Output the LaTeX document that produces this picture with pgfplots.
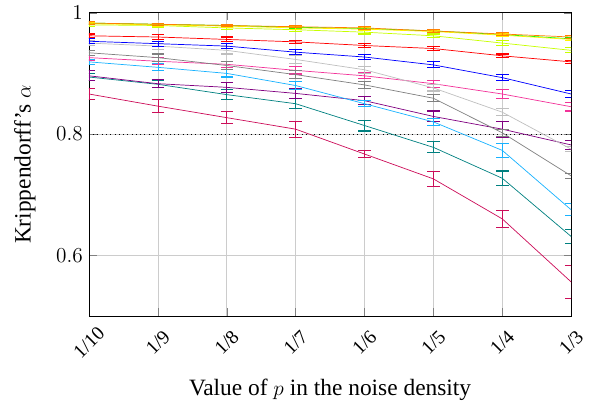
\documentclass[border=0pt]{standalone}
\usepackage{fontspec}
\setmainfont{Liberation Serif}
\usepackage{pgfplots}
\pgfplotsset{compat=1.18}

\definecolor{crimson}{rgb}{0.80,0.05,0.35}
\definecolor{hotpink}{rgb}{0.95,0.20,0.60}
\definecolor{skyblue}{rgb}{0.10,0.70,1.00}
\definecolor{limey}{rgb}{0.78,1.00,0.00}

\pgfplotsset{
  kline/.style={thin, mark=none, error bars/.cd, y dir=both, y explicit,
    error mark options={rotate=90, mark size=3.5pt, line width=0.6pt}, /pgfplots/.cd},
}

\begin{document}
\begin{tikzpicture}
\begin{axis}[
    scale only axis,
    width=272pt,
    height=171pt,
    xmin=0, xmax=7,
    ymin=0.5, ymax=1,
    xtick={0,1,2,3,4,5,6,7},
    xticklabels={1/10,1/9,1/8,1/7,1/6,1/5,1/4,1/3},
    x tick label style={rotate=45, anchor=center, font=\fontsize{11}{13}\selectfont},
    xticklabel shift=15pt,
    ytick={0.6,0.8,1},
    y tick label style={font=\large},
    grid=major,
    major grid style={gray!40},
    tick style={gray},
    xlabel={Value of $p$ in the noise density},
    ylabel={Krippendorff's $\alpha$},
    xlabel style={font=\fontsize{13.2}{15}\selectfont, yshift=-3pt},
    ylabel style={font=\fontsize{13.2}{15}\selectfont, inner ysep=8pt},
]
\addplot[black, dotted, thin, forget plot] coordinates {(0,0.8) (7,0.8)};

\addplot[kline, color=crimson] coordinates {
(0,0.866) +- (0,0.009) (1,0.846) +- (0,0.011) (2,0.827) +- (0,0.010) (3,0.808) +- (0,0.013)
(4,0.767) +- (0,0.006) (5,0.726) +- (0,0.012) (6,0.660) +- (0,0.014) (7,0.556) +- (0,0.027)};
\addplot[kline, color=teal] coordinates {
(0,0.894) +- (0,0.006) (1,0.882) +- (0,0.006) (2,0.865) +- (0,0.008) (3,0.850) +- (0,0.008)
(4,0.814) +- (0,0.009) (5,0.778) +- (0,0.009) (6,0.727) +- (0,0.012) (7,0.631) +- (0,0.011)};
\addplot[kline, color=violet] coordinates {
(0,0.896) +- (0,0.008) (1,0.883) +- (0,0.007) (2,0.877) +- (0,0.008) (3,0.867) +- (0,0.008)
(4,0.855) +- (0,0.007) (5,0.829) +- (0,0.009) (6,0.808) +- (0,0.013) (7,0.782) +- (0,0.008)};
\addplot[kline, color=skyblue] coordinates {
(0,0.919) +- (0,0.004) (1,0.910) +- (0,0.006) (2,0.900) +- (0,0.006) (3,0.880) +- (0,0.006)
(4,0.850) +- (0,0.005) (5,0.820) +- (0,0.006) (6,0.773) +- (0,0.012) (7,0.675) +- (0,0.010)};
\addplot[kline, color=hotpink] coordinates {
(0,0.926) +- (0,0.004) (1,0.920) +- (0,0.006) (2,0.915) +- (0,0.005) (3,0.905) +- (0,0.006)
(4,0.896) +- (0,0.005) (5,0.883) +- (0,0.006) (6,0.866) +- (0,0.008) (7,0.845) +- (0,0.007)};
\addplot[kline, color=gray] coordinates {
(0,0.934) +- (0,0.004) (1,0.926) +- (0,0.006) (2,0.913) +- (0,0.006) (3,0.898) +- (0,0.006)
(4,0.881) +- (0,0.006) (5,0.859) +- (0,0.006) (6,0.802) +- (0,0.006) (7,0.731) +- (0,0.004)};
\addplot[kline, color=lightgray] coordinates {
(0,0.950) +- (0,0.004) (1,0.945) +- (0,0.005) (2,0.938) +- (0,0.006) (3,0.923) +- (0,0.007)
(4,0.906) +- (0,0.006) (5,0.876) +- (0,0.005) (6,0.836) +- (0,0.006) (7,0.775) +- (0,0.004)};
\addplot[kline, color=blue] coordinates {
(0,0.953) +- (0,0.004) (1,0.949) +- (0,0.004) (2,0.945) +- (0,0.004) (3,0.935) +- (0,0.004)
(4,0.927) +- (0,0.004) (5,0.914) +- (0,0.005) (6,0.893) +- (0,0.005) (7,0.866) +- (0,0.006)};
\addplot[kline, color=red] coordinates {
(0,0.962) +- (0,0.003) (1,0.960) +- (0,0.004) (2,0.956) +- (0,0.004) (3,0.952) +- (0,0.003)
(4,0.946) +- (0,0.003) (5,0.941) +- (0,0.003) (6,0.929) +- (0,0.003) (7,0.919) +- (0,0.002)};
\addplot[kline, color=limey] coordinates {
(0,0.980) +- (0,0.002) (1,0.979) +- (0,0.003) (2,0.975) +- (0,0.003) (3,0.972) +- (0,0.003)
(4,0.968) +- (0,0.003) (5,0.962) +- (0,0.003) (6,0.950) +- (0,0.004) (7,0.938) +- (0,0.004)};
\addplot[kline, color=green] coordinates {
(0,0.983) +- (0,0.002) (1,0.981) +- (0,0.002) (2,0.979) +- (0,0.002) (3,0.976) +- (0,0.002)
(4,0.974) +- (0,0.002) (5,0.970) +- (0,0.002) (6,0.964) +- (0,0.002) (7,0.957) +- (0,0.002)};
\addplot[kline, color=yellow] coordinates {
(0,0.982) +- (0,0.002) (1,0.980) +- (0,0.002) (2,0.978) +- (0,0.002) (3,0.975) +- (0,0.002)
(4,0.973) +- (0,0.002) (5,0.969) +- (0,0.002) (6,0.963) +- (0,0.002) (7,0.956) +- (0,0.002)};
\addplot[kline, color=orange] coordinates {
(0,0.983) +- (0,0.002) (1,0.981) +- (0,0.002) (2,0.979) +- (0,0.002) (3,0.977) +- (0,0.002)
(4,0.975) +- (0,0.002) (5,0.970) +- (0,0.002) (6,0.965) +- (0,0.002) (7,0.960) +- (0,0.002)};
\end{axis}
\end{tikzpicture}
\end{document}
